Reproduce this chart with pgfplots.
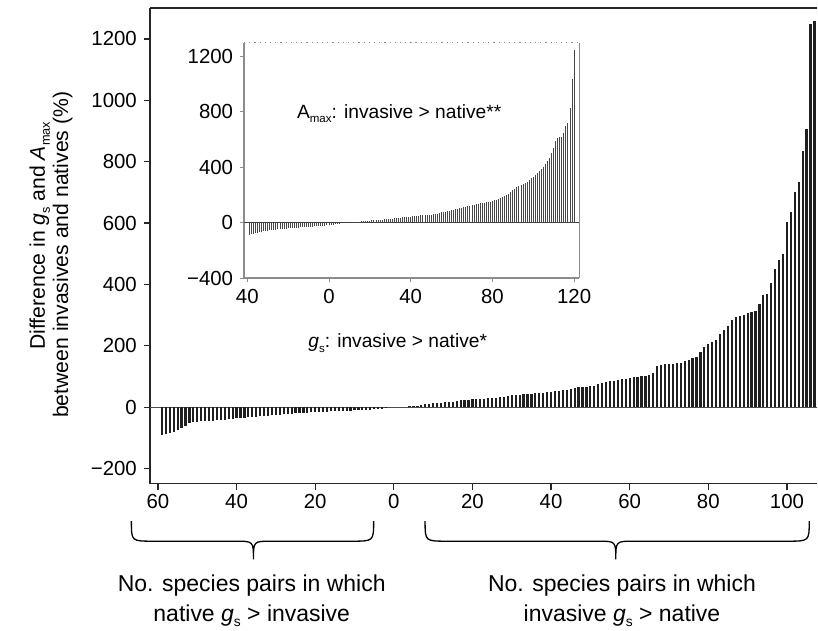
\documentclass[border=0pt]{standalone}
\usepackage{pgfplots}
\pgfplotsset{compat=1.18}
\usepackage{graphicx}
\usepackage{fontspec}
\setmainfont{Liberation Sans}
\newcommand{\sub}[1]{\raisebox{-0.45ex}{\scalebox{0.6}{#1}}}

\begin{document}
\begin{tikzpicture}
\begin{scope}[x=0.5pt,y=-0.5pt]
\path[use as bounding box] (0,0) rectangle (818,631);
\end{scope}

% ---------------- main axis ----------------
\begin{axis}[
  at={(75pt,-4.15pt)}, anchor=north west,
  width=334pt, height=237.85pt, scale only axis,
  xmin=-62.06, xmax=107.7, ymin=-249, ymax=1300,
  axis lines=left, axis line style={-, line width=0.8pt, black!85},
  xtick={-60,-40,-20,0,20,40,60,80,100},
  xticklabels={60,40,20,0,20,40,60,80,100},
  ytick={-200,0,200,400,600,800,1000,1200},
  yticklabels={−200,0,200,400,600,800,1000,1200},
  tick align=outside, major tick length=3pt,
  tick style={line width=0.6pt, black!85},
  tick label style={font=\fontsize{10.2}{12}\selectfont},
  xticklabel style={yshift=1pt},
  clip=false,
]
\draw[line width=0.8pt, black!85] (rel axis cs:0,1) -- (rel axis cs:1,1);
\addplot[black!70, line width=0.6pt] coordinates {(-62.06,0) (107.7,0)};
\addplot[ycomb, black!88, line width=1.1pt] coordinates {
(-59,-92) (-58,-88) (-57,-84) (-56,-80) (-55,-75) (-54,-68) (-53,-60) (-52,-53) (-51,-49) (-50,-47) (-49,-46) (-48,-45) (-47,-44.5) (-46,-44) (-45,-43) (-44,-42) (-43,-41) (-42,-40) (-41,-38.5) (-40,-37) (-39,-36) (-38,-34.5) (-37,-33) (-36,-32) (-35,-31) (-34,-30) (-33,-29) (-32,-28) (-31,-27) (-30,-25.5) (-29,-24) (-28,-22.5) (-27,-21.5) (-26,-21) (-25,-20) (-24,-19) (-23,-18.5) (-22,-18) (-21,-17) (-20,-16) (-19,-15.5) (-18,-15) (-17,-14.5) (-16,-14) (-15,-13.5) (-14,-13) (-13,-12.5) (-12,-12) (-11,-11) (-10,-10.5) (-9,-10) (-8,-9) (-7,-8.5) (-6,-8) (-5,-7) (-4,-6) (-3,-5) (-2,-4)
};
\addplot[ycomb, black!88, line width=1.1pt] coordinates {
(4,3) (5,4) (6,5) (7,7) (8,9) (9,10) (10,12) (11,14) (12,15) (13,16) (14,17) (15,18) (16,19) (17,22) (18,23) (19,24) (20,25) (21,26) (22,27) (23,28) (24,29) (25,30) (26,31) (27,32) (28,34) (29,36) (30,38) (31,40) (32,41) (33,42) (34,43) (35,44) (36,45) (37,46) (38,47) (39,48) (40,50) (41,52) (42,53) (43,55) (44,57) (45,59) (46,62) (47,65) (48,66) (49,67) (50,68) (51,70) (52,75) (53,80) (54,82) (55,84) (56,86) (57,89) (58,91) (59,93) (60,95) (61,97) (62,99) (63,101) (64,103) (65,105) (66,112) (67,135) (68,138) (69,140) (70,141) (71,142) (72,143) (73,144) (74,150) (75,155) (76,160) (77,165) (78,180) (79,195) (80,205) (81,212) (82,218) (83,240) (84,250) (85,265) (86,285) (87,295) (88,296) (89,300) (90,306) (91,310) (92,312) (93,335) (94,365) (95,368) (96,405) (97,450) (98,480) (99,500) (100,605) (101,635) (102,700) (103,735) (104,835) (105,905) (106,1250) (107,1258)
};
\end{axis}

% ---------------- inset axis ----------------
\begin{axis}[
  at={(122.15pt,-21.35pt)}, anchor=north west,
  width=167.85pt, height=117.8pt, scale only axis,
  xmin=-41.6, xmax=122.6, ymin=-400, ymax=1300,
  axis x line=bottom, axis y line=box,
  axis line style={-, line width=0.6pt, black!45},
  xtick={-40,0,40,80,120},
  xticklabels={40,0,40,80,120},
  ytick={-400,0,400,800,1200},
  yticklabels={−400,0,400,800,1200},
  ytick pos=left,
  tick align=outside, major tick length=2pt,
  tick style={line width=0.5pt, black!45},
  tick label style={font=\fontsize{10.2}{12}\selectfont},
  clip=false,
]
\draw[black!45, line width=0.6pt, dotted] (rel axis cs:0,1) -- (rel axis cs:1,1);
\addplot[black!75, line width=0.6pt] coordinates {(-41.6,0) (122.6,0)};
\addplot[ycomb, black!72, line width=0.5pt] coordinates {
(-39,-90) (-38,-85) (-37,-80) (-36,-76) (-35,-72) (-34,-68) (-33,-65) (-32,-62) (-31,-59) (-30,-57) (-29,-55) (-28,-53) (-27,-51) (-26,-50) (-25,-48) (-24,-47) (-23,-46) (-22,-44) (-21,-43) (-20,-42) (-19,-40) (-18,-39) (-17,-38) (-16,-37) (-15,-36) (-14,-35) (-13,-34) (-12,-33) (-11,-31) (-10,-30) (-9,-29) (-8,-28) (-7,-27) (-6,-26) (-5,-25) (-4,-24) (-3,-22) (-2,-21) (-1,-19) (0,-18) (1,-16) (2,-15) (3,-13) (4,-11) (5,-10)
};
\addplot[ycomb, black!72, line width=0.5pt] coordinates {
(11,3) (12,5) (13,6) (14,7) (15,8) (16,10) (17,11) (18,12) (19,13) (20,15) (21,16) (22,17) (23,19) (24,20) (25,21) (26,22) (27,23) (28,24) (29,26) (30,27) (31,28) (32,30) (33,32) (34,34) (35,36) (36,38) (37,39) (38,40) (39,42) (40,43) (41,45) (42,47) (43,49) (44,51) (45,52) (46,53) (47,54) (48,55) (49,56) (50,57) (51,59) (52,61) (53,65) (54,70) (55,74) (56,77) (57,80) (58,83) (59,86) (60,89) (61,92) (62,95) (63,99) (64,103) (65,107) (66,111) (67,115) (68,119) (69,123) (70,127) (71,131) (72,135) (73,138) (74,140) (75,142) (76,144) (77,146) (78,148) (79,151) (80,155) (81,160) (82,165) (83,170) (84,178) (85,186) (86,194) (87,202) (88,210) (89,222) (90,234) (91,246) (92,255) (93,262) (94,270) (95,278) (96,285) (97,295) (98,308) (99,320) (100,332) (101,345) (102,360) (103,375) (104,390) (105,405) (106,425) (107,445) (108,470) (109,500) (110,540) (111,590) (112,610) (113,615) (114,622) (115,650) (116,700) (117,720) (118,825) (119,1040) (120,1245)
};
\end{axis}

% ---------------- annotations (pixel coordinates) ----------------
\begin{scope}[x=0.5pt,y=-0.5pt]
\node[anchor=base west, inner sep=0, font=\fontsize{9.6}{12}\selectfont] at (297,118.3)
  {A\sub{max}: invasive > native**};
\node[anchor=base west, inner sep=0, font=\fontsize{9.6}{12}\selectfont] at (308.3,348.3)
  {\textit{g}\sub{s}: invasive > native*};
\node[rotate=90, anchor=base, inner sep=0, font=\fontsize{10.6}{12}\selectfont] at (45,236)
  {Difference in \textit{g}\sub{s} and \textit{A}\sub{max}};
\node[rotate=90, anchor=base, inner sep=0, font=\fontsize{10.6}{12}\selectfont] at (68.3,255)
  {between invasives and natives (\%)};
% braces
\draw[line width=0.65pt, black] (131.5,521.7) .. controls (131.5,541.7) and (131.5,541.7) .. (153,541.7)
  -- (235.7,541.7) .. controls (253.7,541.7) and (253.7,541.7) .. (253.7,560)
  .. controls (253.7,541.7) and (253.7,541.7) .. (271.7,541.7)
  -- (352.5,541.7) .. controls (374,541.7) and (374,541.7) .. (374,521.7);
\draw[line width=0.65pt, black] (425.5,521.7) .. controls (425.5,541.7) and (425.5,541.7) .. (447,541.7)
  -- (598.4,541.7) .. controls (616.4,541.7) and (616.4,541.7) .. (616.4,560)
  .. controls (616.4,541.7) and (616.4,541.7) .. (634.4,541.7)
  -- (788.5,541.7) .. controls (810,541.7) and (810,541.7) .. (810,521.7);
\node[anchor=base, inner sep=0, font=\fontsize{11.5}{13}\selectfont] at (252,591.7) {No. species pairs in which};
\node[anchor=base, inner sep=0, font=\fontsize{11.5}{13}\selectfont] at (252,622) {native \textit{g}\sub{s} > invasive};
\node[anchor=base, inner sep=0, font=\fontsize{11.5}{13}\selectfont] at (622.6,591.7) {No. species pairs in which};
\node[anchor=base, inner sep=0, font=\fontsize{11.5}{13}\selectfont] at (622.6,622) {invasive \textit{g}\sub{s} > native};
\end{scope}
\end{tikzpicture}
\end{document}
